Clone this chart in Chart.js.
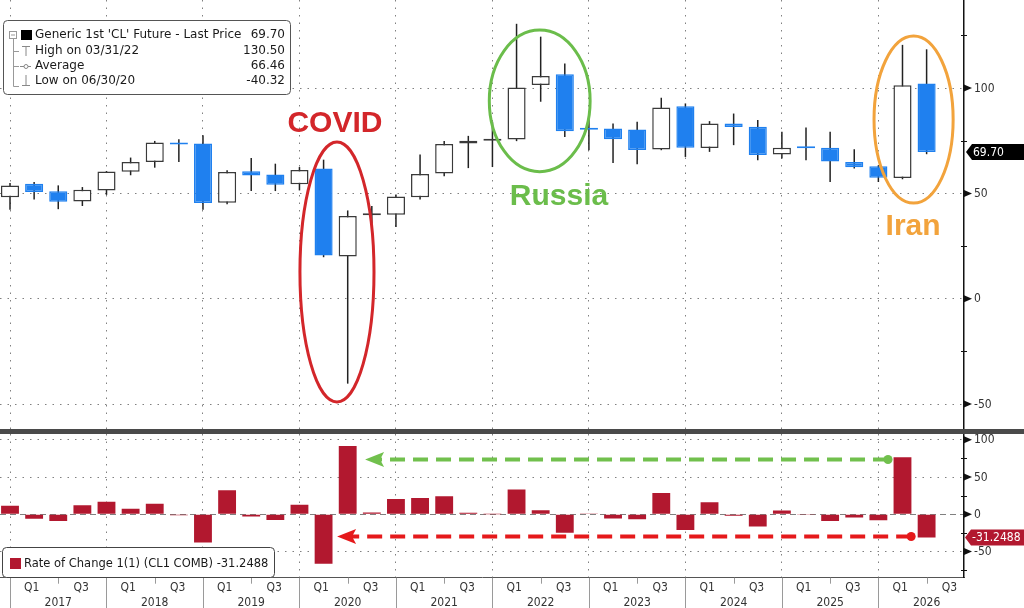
<!DOCTYPE html>
<html>
<head>
<meta charset="utf-8">
<title>Generic 1st 'CL' Future - quarterly</title>
<script src="https://cdn.jsdelivr.net/npm/chart.js@4.4.1/dist/chart.umd.min.js"></script>
<style>
  html, body { margin: 0; padding: 0; background: #fff; }
  #stage { position: relative; width: 1024px; height: 608px; overflow: hidden; }
  #priceChart { position: absolute; left: 0; top: 0; }
  #rocChart { position: absolute; left: 0; top: 434px; }
  #divider { position: absolute; left: 0; top: 429px; width: 1024px; height: 5px; background: #4a4a4a; }
</style>
</head>
<body>
<div id="stage">
  <canvas id="priceChart" width="1024" height="429"></canvas>
  <div id="divider"></div>
  <canvas id="rocChart" width="1024" height="174"></canvas>
</div>
<script>
// quarterly candles, each one sits on its quarter end date
const quarters = ['Q4 2016', 'Q1 2017', 'Q2 2017', 'Q3 2017', 'Q4 2017', 'Q1 2018', 'Q2 2018', 'Q3 2018', 'Q4 2018',
  'Q1 2019', 'Q2 2019', 'Q3 2019', 'Q4 2019', 'Q1 2020', 'Q2 2020', 'Q3 2020', 'Q4 2020',
  'Q1 2021', 'Q2 2021', 'Q3 2021', 'Q4 2021', 'Q1 2022', 'Q2 2022', 'Q3 2022', 'Q4 2022',
  'Q1 2023', 'Q2 2023', 'Q3 2023', 'Q4 2023', 'Q1 2024', 'Q2 2024', 'Q3 2024', 'Q4 2024',
  'Q1 2025', 'Q2 2025', 'Q3 2025', 'Q4 2025', 'Q1 2026', 'Q2 2026'];
const opens  = [48.2, 54.6, 51.0, 46.2, 51.4, 60.3, 64.9, 74.1, 73.7, 45.6, 60.5, 59.0, 54.3, 61.8, 20.0, 39.6, 39.9,
  48.2, 59.4, 73.7, 75.0, 75.6, 101.4, 106.5, 80.9, 80.8, 80.3, 70.8, 91.4, 71.6, 83.2, 81.6, 68.4,
  72.0, 71.7, 64.9, 62.9, 57.3, 102.2];
const highs  = [54.9, 55.4, 53.8, 53.0, 60.6, 67.0, 74.9, 75.7, 77.6, 61.0, 66.8, 64.1, 62.5, 66.0, 41.9, 44.0, 49.5,
  68.4, 74.9, 77.3, 84.0, 130.5, 124.4, 111.7, 88.0, 83.2, 84.0, 95.4, 92.7, 84.3, 87.9, 84.8, 79.2,
  81.3, 79.2, 71.0, 63.3, 120.5, 118.4];
const lows   = [42.2, 47.1, 42.5, 44.0, 49.3, 58.6, 62.2, 64.9, 42.2, 44.8, 51.1, 51.1, 51.4, 19.7, -40.32, 35.6, 34.0,
  47.1, 58.1, 62.0, 62.5, 74.8, 93.5, 76.8, 70.5, 64.4, 63.8, 70.5, 67.3, 69.7, 72.9, 65.7, 66.5,
  65.7, 55.4, 61.8, 55.4, 56.7, 68.6];
const closes = [53.72, 50.60, 46.04, 51.67, 60.42, 64.94, 74.15, 73.25, 45.41, 60.14, 58.47, 54.07, 61.06, 20.48, 39.27, 40.22, 48.52,
  59.16, 73.47, 75.03, 75.21, 100.28, 105.76, 79.49, 80.26, 75.67, 70.64, 90.79, 71.65, 83.17, 81.54, 68.17, 71.72,
  71.48, 65.11, 62.37, 57.42, 101.38, 69.70];
// Rate of Change 1(1), % vs previous quarter
const roc    = [11.4, -5.8, -9.0, 12.2, 16.9, 7.5, 14.2, -1.2, -38.0, 32.4, -2.8, -7.5, 12.9, -66.5, 91.7, 2.4, 20.6,
  21.9, 24.2, 2.1, 0.2, 33.3, 5.5, -24.8, 1.0, -5.7, -6.6, 28.5, -21.1, 16.1, -2.0, -16.4, 5.2,
  -0.3, -8.9, -4.2, -7.9, 76.6, -31.2488];
const years  = ['2017', '2018', '2019', '2020', '2021', '2022', '2023', '2024', '2025', '2026'];
const AVERAGE = 66.46;

const BLUE = '#1f80ef';
const CRIMSON = '#b2182f';
const GRID = '#808080';
const UI_FONT = '"DejaVu Sans Condensed", "DejaVu Sans", sans-serif';
const LEGEND_FONT = '"DejaVu Sans", sans-serif';
const ANNO_FONT = '"Liberation Sans", Arial, sans-serif';

const X_RANGE = { min: -0.415, max: 39.55 };
const PRICE_RANGE = { min: -61.85, max: 141.8 };
const ROC_RANGE = { min: -85.1, max: 107.8 };
const AXIS_W = 60;

const yearStarts = years.map((y, k) => 4 * k); // Dec 31 of previous year = quarter index 4k

// annotation callouts, placed in data units (quarter index, value)
const callouts = [
  { text: 'COVID',  color: '#d3262a', at: [13.47, 79.3], ring: [12.02, 15.09, 74.4, -49.0] },
  { text: 'Russia', color: '#6bbd4b', at: [22.76, 44.5], ring: [19.87, 24.05, 127.5, 60.3] },
  { text: 'Iran',   color: '#f2a33c', at: [37.44, 30.2], ring: [35.82, 39.10, 124.7, 45.4] }
];
const rocArrows = [
  { color: '#71c04d', from: 36.4, to: 14.72, level: 73.6 },
  { color: '#e5191b', from: 37.36, to: 13.56, level: -29.8 }
];

const axisLabels = [];
years.forEach((yr, k) => {
  axisLabels.push({ value: 4 * k + 0.9, lines: ['Q1', ''] });
  axisLabels.push({ value: 4 * k + 2, lines: ['', yr] });
  axisLabels.push({ value: 4 * k + 2.95, lines: ['Q3', ''] });
});

Chart.defaults.font.family = UI_FONT;
Chart.defaults.color = '#333';

const isUp = i => closes[i] >= opens[i];

// right-hand axis: arrow marks + labels every 50, short ticks every 25
function axisMarks(ctx, yScale) {
  const x0 = yScale.left;
  ctx.save();
  ctx.fillStyle = '#111';
  ctx.strokeStyle = '#111';
  ctx.lineWidth = 1;
  ctx.font = '12px ' + UI_FONT;
  ctx.textBaseline = 'middle';
  ctx.textAlign = 'left';
  yScale.ticks.forEach(t => {
    const y = yScale.getPixelForValue(t.value);
    if (t.value % 50 === 0) {
      ctx.fillStyle = '#111';
      ctx.beginPath();
      ctx.moveTo(x0, y - 3.5);
      ctx.lineTo(x0 + 8, y);
      ctx.lineTo(x0, y + 3.5);
      ctx.closePath();
      ctx.fill();
      ctx.fillStyle = '#333';
      ctx.fillText(String(t.value), x0 + 10, y + 0.5);
    } else {
      const yy = Math.round(y) + 0.5;
      ctx.beginPath();
      ctx.moveTo(x0 - 3, yy);
      ctx.lineTo(x0 + 3, yy);
      ctx.stroke();
    }
  });
  ctx.restore();
}

function priceTag(ctx, x0, y, text, bg) {
  ctx.save();
  ctx.fillStyle = bg;
  ctx.beginPath();
  ctx.moveTo(x0 + 2, y);
  ctx.lineTo(x0 + 8, y - 8);
  ctx.lineTo(1024, y - 8);
  ctx.lineTo(1024, y + 8);
  ctx.lineTo(x0 + 8, y + 8);
  ctx.closePath();
  ctx.fill();
  ctx.fillStyle = '#fff';
  ctx.font = '12px ' + UI_FONT;
  ctx.textBaseline = 'middle';
  ctx.fillText(text, x0 + 9, y + 0.5);
  ctx.restore();
}

function drawPriceLegend(ctx) {
  const rows = [
    ["Generic 1st 'CL' Future - Last Price", closes[closes.length - 1].toFixed(2)],
    ['High on 03/31/22', Math.max(...highs).toFixed(2)],
    ['Average', AVERAGE.toFixed(2)],
    ['Low on 06/30/20', Math.min(...lows).toFixed(2)]
  ];
  const rowY = [35, 51, 66, 81];
  ctx.save();
  ctx.beginPath();
  ctx.roundRect(3.5, 20.5, 287, 74, 4);
  ctx.fillStyle = '#fff';
  ctx.fill();
  ctx.strokeStyle = '#555';
  ctx.lineWidth = 1;
  ctx.stroke();

  // tree lines + icons
  ctx.strokeStyle = '#999';
  ctx.strokeRect(9.5, 31.5, 7, 7);
  ctx.beginPath();
  ctx.moveTo(11, 35); ctx.lineTo(15, 35);
  ctx.moveTo(13.5, 39); ctx.lineTo(13.5, 86.5);
  ctx.moveTo(13.5, 51.5); ctx.lineTo(19, 51.5);
  ctx.moveTo(13.5, 66.5); ctx.lineTo(19, 66.5);
  ctx.moveTo(13.5, 86.5); ctx.lineTo(19, 86.5);
  ctx.stroke();
  ctx.fillStyle = '#000';
  ctx.fillRect(21, 30, 11, 10);
  ctx.strokeStyle = '#888';
  ctx.beginPath();
  ctx.moveTo(22, 46.5); ctx.lineTo(30, 46.5);
  ctx.moveTo(26, 46.5); ctx.lineTo(26, 56);
  ctx.moveTo(20, 66.5); ctx.lineTo(31, 66.5);
  ctx.moveTo(26, 75); ctx.lineTo(26, 85.5);
  ctx.moveTo(22, 85.5); ctx.lineTo(30, 85.5);
  ctx.stroke();
  ctx.beginPath();
  ctx.arc(26, 66.5, 2, 0, Math.PI * 2);
  ctx.fillStyle = '#fff';
  ctx.fill();
  ctx.stroke();

  ctx.font = '12px ' + LEGEND_FONT;
  ctx.textBaseline = 'middle';
  ctx.fillStyle = '#1a1a1a';
  rows.forEach((r, k) => {
    ctx.textAlign = 'left';
    ctx.fillText(r[0], 35, rowY[k]);
    ctx.textAlign = 'right';
    ctx.fillText(r[1], 285, rowY[k]);
  });
  ctx.restore();
}

function drawRocLegend(ctx) {
  ctx.save();
  ctx.beginPath();
  ctx.roundRect(2.5, 113.5, 272, 30, 4);
  ctx.fillStyle = '#fff';
  ctx.fill();
  ctx.strokeStyle = '#444';
  ctx.lineWidth = 1;
  ctx.stroke();
  ctx.fillStyle = CRIMSON;
  ctx.fillRect(10, 124, 11, 11);
  ctx.fillStyle = '#1a1a1a';
  ctx.font = '11.5px ' + LEGEND_FONT;
  ctx.textBaseline = 'middle';
  ctx.fillText('Rate of Change 1(1) (CL1 COMB) ' + roc[roc.length - 1].toFixed(4), 24, 130);
  ctx.restore();
}

const priceDecor = {
  id: 'priceDecor',
  afterDatasetsDraw(chart) {
    const { ctx, scales: { x, y } } = chart;
    callouts.forEach(c => {
      const [i0, i1, vTop, vBot] = c.ring;
      const xa = x.getPixelForValue(i0), xb = x.getPixelForValue(i1);
      const ya = y.getPixelForValue(vTop), yb = y.getPixelForValue(vBot);
      ctx.save();
      ctx.strokeStyle = c.color;
      ctx.lineWidth = 3;
      ctx.beginPath();
      ctx.ellipse((xa + xb) / 2, (ya + yb) / 2, (xb - xa) / 2, (yb - ya) / 2, 0, 0, Math.PI * 2);
      ctx.stroke();
      ctx.fillStyle = c.color;
      ctx.font = 'bold 30px ' + ANNO_FONT;
      ctx.textAlign = 'center';
      ctx.textBaseline = 'alphabetic';
      ctx.fillText(c.text, x.getPixelForValue(c.at[0]), y.getPixelForValue(c.at[1]));
      ctx.restore();
    });
  },
  afterDraw(chart) {
    const { ctx, scales: { y } } = chart;
    axisMarks(ctx, y);
    priceTag(ctx, y.left, y.getPixelForValue(closes[closes.length - 1]), closes[closes.length - 1].toFixed(2), '#000');
    drawPriceLegend(ctx);
  }
};

const rocDecor = {
  id: 'rocDecor',
  afterDatasetsDraw(chart) {
    const { ctx, scales: { x, y } } = chart;
    rocArrows.forEach(a => {
      const x1 = x.getPixelForValue(a.from), x0 = x.getPixelForValue(a.to);
      const yy = y.getPixelForValue(a.level);
      ctx.save();
      ctx.strokeStyle = a.color;
      ctx.fillStyle = a.color;
      ctx.lineWidth = 4;
      ctx.setLineDash([15, 8]);
      ctx.beginPath();
      ctx.moveTo(x1, yy);
      ctx.lineTo(x0 + 14, yy);
      ctx.stroke();
      ctx.setLineDash([]);
      ctx.beginPath();
      ctx.moveTo(x0, yy);
      ctx.lineTo(x0 + 19, yy - 7.5);
      ctx.lineTo(x0 + 15, yy);
      ctx.lineTo(x0 + 19, yy + 7.5);
      ctx.closePath();
      ctx.fill();
      ctx.beginPath();
      ctx.arc(x1, yy, 4.5, 0, Math.PI * 2);
      ctx.fill();
      ctx.restore();
    });
  },
  afterDraw(chart) {
    const { ctx, chartArea, scales: { x, y } } = chart;
    // year separators and half-year ticks under the axis
    ctx.save();
    ctx.strokeStyle = '#9a9a9a';
    ctx.lineWidth = 1;
    ctx.beginPath();
    yearStarts.forEach(v => {
      const px = Math.round(x.getPixelForValue(v)) + 0.5;
      ctx.moveTo(px, chartArea.bottom);
      ctx.lineTo(px, chart.height);
      const pm = Math.round(x.getPixelForValue(v + 2)) + 0.5;
      ctx.moveTo(pm, chartArea.bottom);
      ctx.lineTo(pm, chartArea.bottom + 6);
    });
    ctx.stroke();
    ctx.restore();
    axisMarks(ctx, y);
    priceTag(ctx, y.left - 1, y.getPixelForValue(roc[roc.length - 1]), roc[roc.length - 1].toFixed(4), CRIMSON);
    drawRocLegend(ctx);
  }
};

const sharedX = {
  type: 'linear',
  min: X_RANGE.min,
  max: X_RANGE.max,
  offset: false,
  afterBuildTicks: s => { s.ticks = yearStarts.map(v => ({ value: v })); },
  afterFit: s => { s.height = 0; },
  ticks: { display: false },
  grid: { color: GRID, lineWidth: 1, drawTicks: false, offset: false }
};

// labels are painted by axisMarks, so the scale adds no label padding
function valueAxis(range) {
  return {
    position: 'right',
    min: range.min,
    max: range.max,
    afterFit: s => { s.width = AXIS_W; },
    ticks: { display: false, stepSize: 25, includeBounds: false },
    grid: {
      drawTicks: false,
      color: c => (c.tick && c.tick.value % 50 === 0 ? GRID : 'rgba(0,0,0,0)')
    },
    border: {
      display: true,
      color: '#111',
      width: 1.5,
      dash: c => (c.tick && c.tick.value === 0 && range === ROC_RANGE ? [6, 4] : [1.5, 6])
    }
  };
}

window.priceChart = new Chart(document.getElementById('priceChart'), {
  type: 'bar',
  data: {
    datasets: [
      {
        label: 'body',
        data: quarters.map((q, i) => ({ x: i, y: [opens[i], closes[i]] })),
        backgroundColor: c => (isUp(c.dataIndex) ? '#fff' : BLUE),
        borderColor: c => (isUp(c.dataIndex) ? '#3a3a3a' : BLUE),
        borderWidth: 1.5,
        borderSkipped: false,
        minBarLength: 2,
        grouped: false,
        categoryPercentage: 1,
        barPercentage: 0.75,
        order: 0
      },
      {
        label: 'wick',
        data: quarters.map((q, i) => ({ x: i, y: [lows[i], highs[i]] })),
        backgroundColor: '#222',
        grouped: false,
        maxBarThickness: 1.5,
        order: 1
      }
    ]
  },
  options: {
    responsive: false,
    animation: false,
    events: [],
    layout: { padding: 0 },
    plugins: { legend: { display: false }, tooltip: { enabled: false } },
    scales: {
      x: { ...sharedX, border: { display: false, dash: [1.5, 6] } },
      y: valueAxis(PRICE_RANGE)
    }
  },
  plugins: [priceDecor]
});

window.rocChart = new Chart(document.getElementById('rocChart'), {
  type: 'bar',
  data: {
    datasets: [{
      label: 'Rate of Change 1(1) (CL1 COMB)',
      data: quarters.map((q, i) => ({ x: i, y: roc[i] })),
      backgroundColor: CRIMSON,
      grouped: false,
      categoryPercentage: 1,
      barPercentage: 0.74
    }]
  },
  options: {
    responsive: false,
    animation: false,
    events: [],
    layout: { padding: 0 },
    plugins: { legend: { display: false }, tooltip: { enabled: false } },
    scales: {
      x: { ...sharedX, weight: 0, border: { display: true, color: '#555', width: 1, dash: [1.5, 6] } },
      xl: {
        type: 'linear',
        position: 'bottom',
        weight: 1,
        min: X_RANGE.min,
        max: X_RANGE.max,
        offset: false,
        afterBuildTicks: s => { s.ticks = axisLabels.map(l => ({ value: l.value })); },
        afterFit: s => { s.height = 30.3; },
        grid: { display: false, drawTicks: false },
        border: { display: false },
        ticks: {
          autoSkip: false,
          maxRotation: 0,
          padding: 2,
          color: '#333',
          font: { size: 12, lineHeight: 1.3 },
          callback: (v, i) => axisLabels[i].lines
        }
      },
      y: valueAxis(ROC_RANGE)
    }
  },
  plugins: [rocDecor]
});
</script>
</body>
</html>
